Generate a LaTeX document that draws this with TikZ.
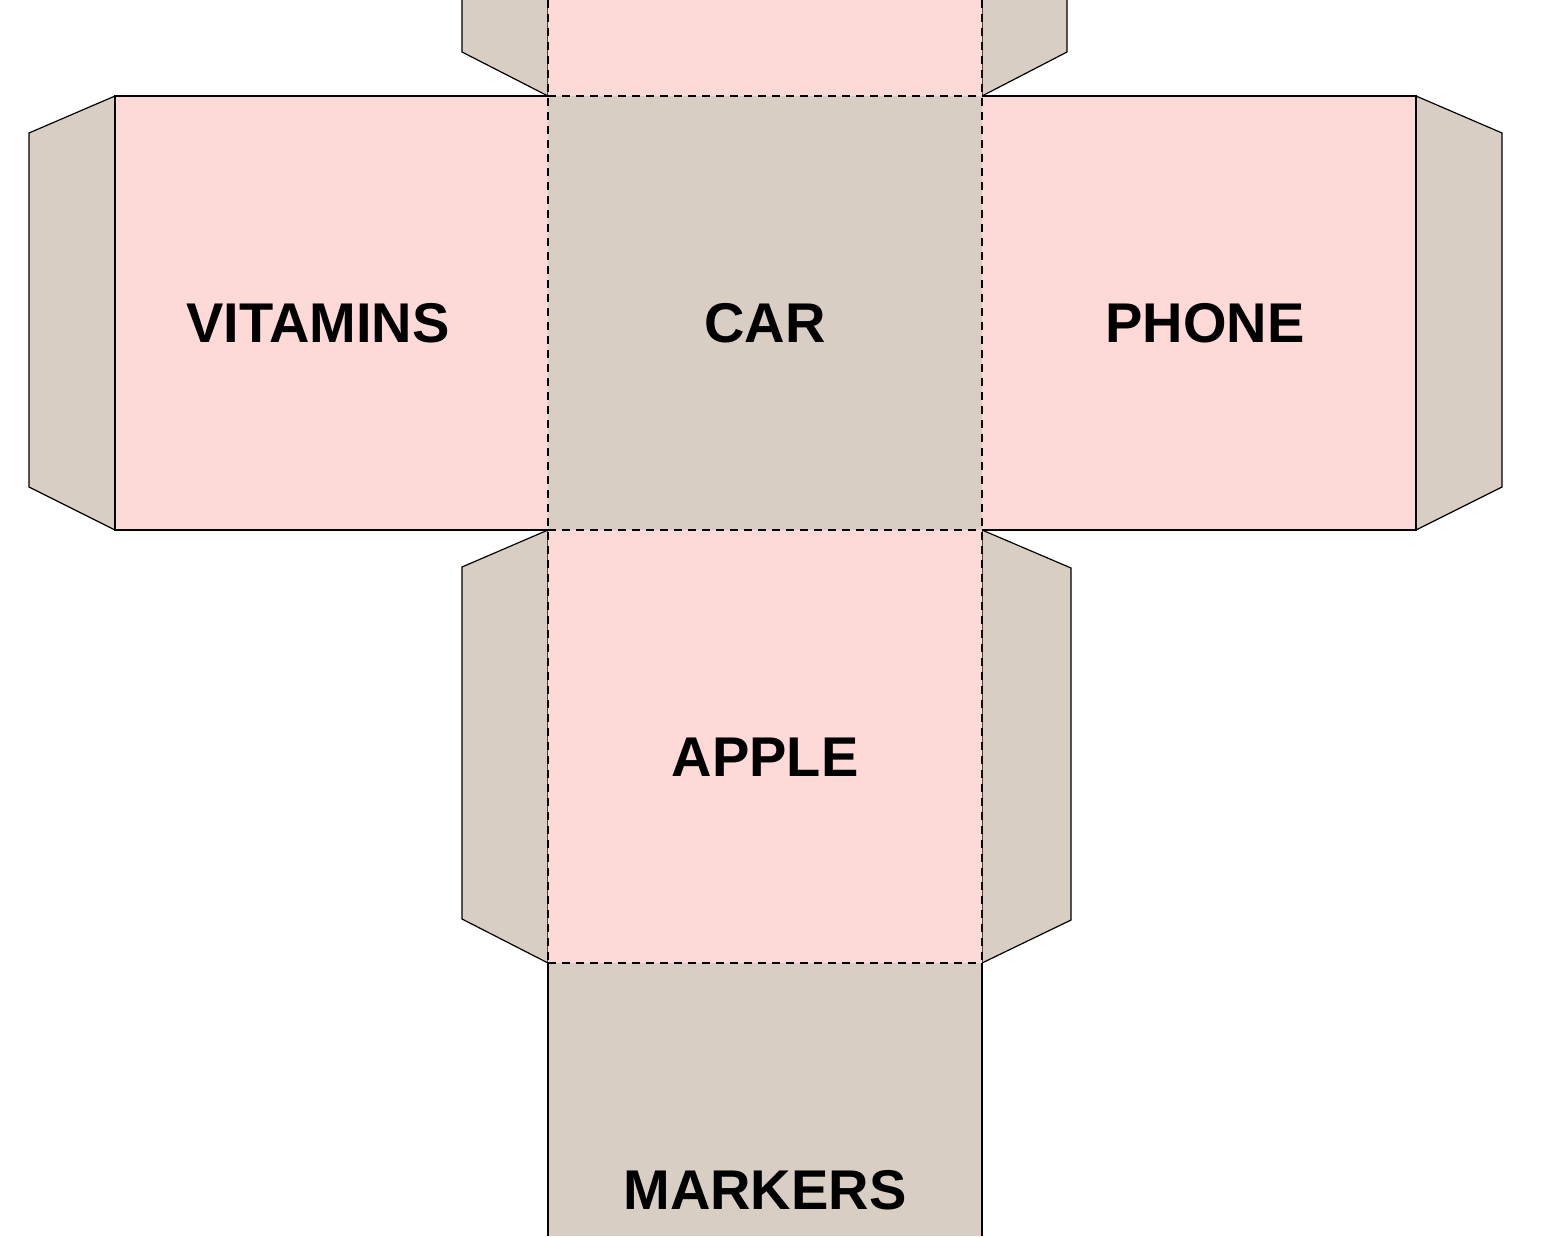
\documentclass[tikz,border=0pt]{standalone}
\usepackage{fontspec}
\setmainfont{Liberation Sans}
\definecolor{pk}{HTML}{FDD9D7}
\definecolor{bg}{HTML}{D9CEC3}
\begin{document}
\begin{tikzpicture}[x=0.5pt,y=-0.5pt,
  face/.style={draw=black,line width=0.6pt},
  fold/.style={draw=black,line width=0.6pt,dash pattern=on 4pt off 3pt},
  lbl/.style={font=\fontsize{28}{32}\selectfont\bfseries}]
\useasboundingbox (0,0) rectangle (1545,1236);
% flaps
\path[face,fill=bg] (462,0)--(462,52)--(548,96)--(548,0);
\path[face,fill=bg] (1067,0)--(1067,52)--(982,96)--(982,0);
\path[face,fill=bg] (115,96)--(29,133)--(29,487)--(115,530)--cycle;
\path[face,fill=bg] (1416,96)--(1502,133)--(1502,487)--(1416,530)--cycle;
\path[face,fill=bg] (548,530)--(462,567)--(462,919)--(548,963)--cycle;
\path[face,fill=bg] (982,530)--(1071,568)--(1071,920)--(982,963)--cycle;
% faces
\path[fill=pk] (548,0) rectangle (982,96);
\path[fill=pk] (115,96) rectangle (548,530);
\path[fill=bg] (548,96) rectangle (982,530);
\path[fill=pk] (982,96) rectangle (1416,530);
\path[fill=pk] (548,530) rectangle (982,963);
\path[fill=bg] (548,963) rectangle (982,1236);
% outlines
\draw[face] (548,96)--(115,96)--(115,530)--(548,530);
\draw[face] (982,96)--(1416,96)--(1416,530)--(982,530);
\draw[face] (548,963)--(548,1236) (982,963)--(982,1236);
% folds
\draw[fold] (548,0)--(548,963) (982,0)--(982,963);
\draw[fold] (548,96)--(982,96) (548,530)--(982,530) (548,963)--(982,963);
\draw[fold] (115,96)--(115,530) (1416,96)--(1416,530);
% labels
\node[lbl] (v) at (318,323) {VITAMINS};
\node[lbl] (c) at (765,323) {CAR};
\node[lbl] (p) at (1205,323) {PHONE};
\node[lbl] (a) at (765,757) {APPLE};
\node[lbl] (m) at (765,1190) {MARKERS};
\end{tikzpicture}
\end{document}
